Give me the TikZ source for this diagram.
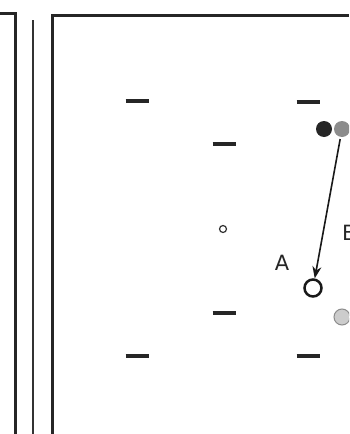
\documentclass[tikz,border=0pt]{standalone}
\usepackage{fontspec}
\setmainfont{DejaVu Sans}
\usetikzlibrary{arrows.meta}
\begin{document}
\begin{tikzpicture}[x=1pt,y=-1pt,
  frameline/.style={line width=3pt,draw=black!85},
  dashmark/.style={line width=3.6pt,draw=black!85},
  dot/.style={circle,inner sep=0pt,minimum size=16pt},
  lbl/.style={font=\fontsize{21}{21}\selectfont,text=black!85,inner sep=0pt}]
\useasboundingbox (0,0) rectangle (349,434);
\clip (0,0) rectangle (349,434);
\fill[white] (0,0) rectangle (349,434);
% frames
\coordinate (f1a) at (0,13);
\coordinate (f1b) at (15,13);
\coordinate (f1c) at (15,434);
\draw[frameline] (f1a) -- (f1b) -- (f1c);
\coordinate (f2a) at (33,20);
\coordinate (f2b) at (33,434);
\draw[line width=2.4pt,draw=black!80] (f2a) -- (f2b);
\coordinate (f3a) at (52,434);
\coordinate (f3b) at (52,15);
\coordinate (f3c) at (349,15);
\draw[frameline] (f3a) -- (f3b) -- (f3c);
% dashes
\foreach \n/\x/\y in {d1/137/101, d2/308/102, d3/224/144, d4/224/313, d5/137/356, d6/308/356}{
  \coordinate (\n) at (\x,\y);
  \draw[dashmark] ([xshift=-11.5pt]\n) -- ([xshift=11.5pt]\n);
}
% circles
\node[dot,fill=black!85] (bk) at (324,129) {};
\node[dot,fill=black!45] (gc) at (342,129) {};
\node[dot,fill=black!20,draw=black!45,line width=1pt] (lg) at (342,317) {};
\node[circle,draw=black!80,line width=1.2pt,inner sep=0pt,minimum size=7pt] (sm) at (223,229) {};
\node[circle,draw=black!90,line width=2.5pt,inner sep=0pt,minimum size=17pt] (ao) at (313,288) {};
% arrow
\draw[line width=1.6pt,draw=black!90,-{Stealth[length=12pt,width=9pt]},shorten <=2pt] (gc) -- (ao);
% labels
\node[lbl] (la) at (282,263) {A};
\node[lbl,anchor=west] (lb) at (342,233) {B};
\end{tikzpicture}
\end{document}
